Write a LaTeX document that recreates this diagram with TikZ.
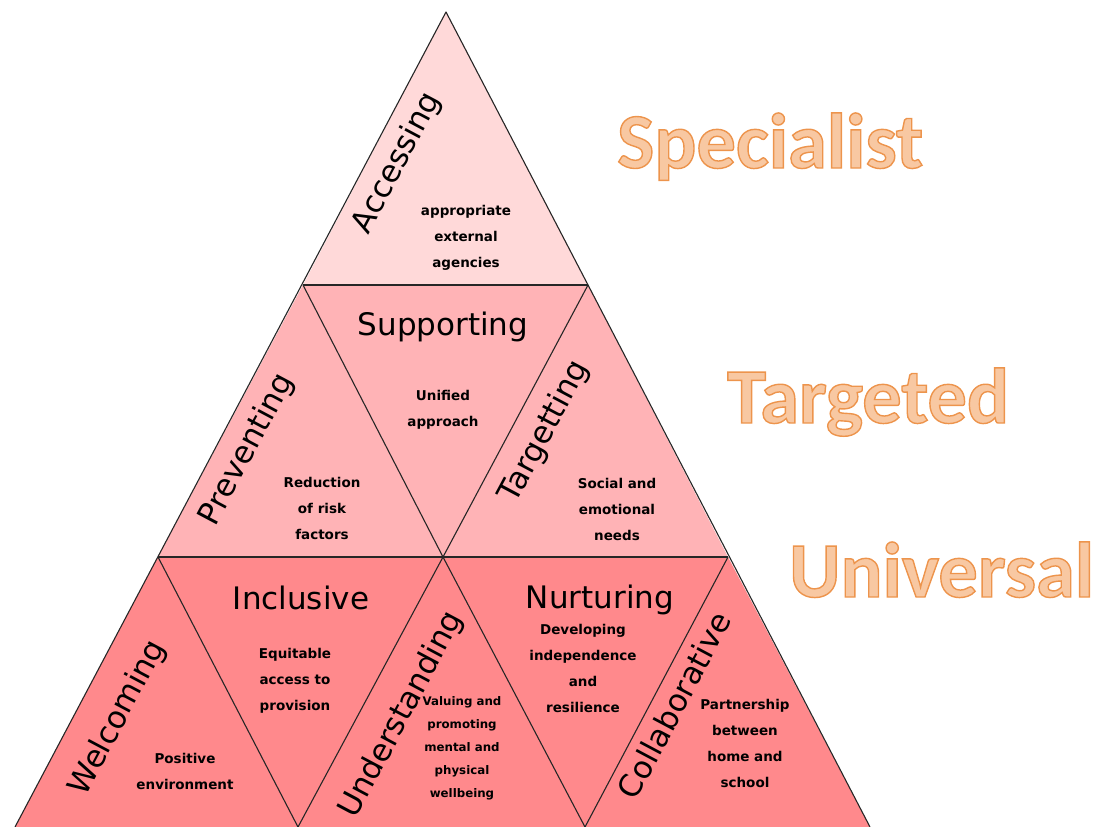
\documentclass[tikz,border=0pt]{standalone}
\usepackage{fontspec}
\setmainfont{DejaVu Sans}
\newfontfamily\levelfont{Carlito}
\usepackage{tikz}
\usetikzlibrary{calc}

\definecolor{tierA}{HTML}{FFD9D9}
\definecolor{tierB}{HTML}{FFB3B6}
\definecolor{tierC}{HTML}{FF898C}
\definecolor{levelfill}{HTML}{F8C8A2}
% stroked + filled letters for the three level names
\newcommand{\outlined}[1]{\special{pdf:literal direct 2 Tr 1.4 w 0.93 0.58 0.30 RG}#1\special{pdf:literal direct 0 Tr}}

\begin{document}
\begin{tikzpicture}[x=1pt, y=-1pt,
    edge/.style={draw=black!85, line width=1.1pt, line join=round},
    title/.style={font=\fontsize{31}{36}\selectfont, inner sep=0pt},
    note/.style={font=\bfseries\fontsize{13.5}{26}\selectfont, align=center, inner sep=0pt},
    level/.style={font=\levelfont\bfseries\fontsize{78.5}{82}\selectfont, text=levelfill, anchor=base west, inner sep=0pt}]
    \useasboundingbox (0,0) rectangle (1109,827);

    \coordinate (apex) at (446,12);
    \coordinate (l1) at (303,285);
    \coordinate (r1) at (588,285);
    \coordinate (l2) at (158,557);
    \coordinate (m2) at (443,557);
    \coordinate (r2) at (728,557);
    \coordinate (l3) at (15,827);
    \coordinate (p3) at (298,827);
    \coordinate (q3) at (585,827);
    \coordinate (r3) at (870,827);

    \fill[tierA] (apex) -- (l1) -- (r1) -- cycle;
    \fill[tierB] (l1) -- (r1) -- (r2) -- (l2) -- cycle;
    \fill[tierC] (l2) -- (r2) -- (r3) -- (l3) -- cycle;

    \draw[edge] (l3) -- (apex) -- (r3);
    \draw[edge] (l1) -- (m2) -- (r1);
    \draw[edge] (l2) -- (p3) -- (m2) -- (q3) -- (r2);
    \draw[edge, line width=1.5pt] (l1) -- (r1);
    \draw[edge, line width=2pt] (l2) -- (m2);
    \draw[edge, line width=1.3pt] (m2) -- (r2);

    % top tier
    \node[title, rotate=62] (accessing) at (397,163) {Accessing};
    \node[note] (agencies) at (466,238) {appropriate\\external\\agencies};

    % middle tier
    \node[title] (supporting) at (443,327) {Supporting};
    \node[note] (unified) at (443,410) {Unified\\approach};
    \node[title, rotate=62] (preventing) at (247,450) {Preventing};
    \node[note] (risk) at (322,508) {Reduction\\of risk\\factors};
    \node[title, rotate=62] (targetting) at (545,432) {Targetting};
    \node[note] (needs) at (617,509) {Social and\\emotional\\needs};

    % bottom tier
    \node[title, rotate=62] (welcoming) at (118,718) {Welcoming};
    \node[note] (positive) at (185,771) {Positive\\environment};
    \node[title] (inclusive) at (301,598) {Inclusive};
    \node[note] (equitable) at (295,681) {Equitable\\access to\\provision};
    \node[title, rotate=62] (understanding) at (402,715) {Understanding};
    \node[note, font=\bfseries\fontsize{11.8}{23}\selectfont] (valuing) at (462,748) {Valuing and\\promoting\\mental and\\physical\\wellbeing};
    \node[title] (nurturing) at (600,600) {Nurturing};
    \node[note] (developing) at (583,668) {Developing\\independence\\and\\resilience};
    \node[title, rotate=62] (collaborative) at (674,705) {Collaborative};
    \node[note] (partnership) at (745,743) {Partnership\\between\\home and\\school};

    % level names
    \node[level] (specialist) at (617,168) {\outlined{Specialist}};
    \node[level] (targeted) at (727,423) {\outlined{Targeted}};
    \node[level] (universal) at (789,597) {\outlined{Universal}};
\end{tikzpicture}
\end{document}
